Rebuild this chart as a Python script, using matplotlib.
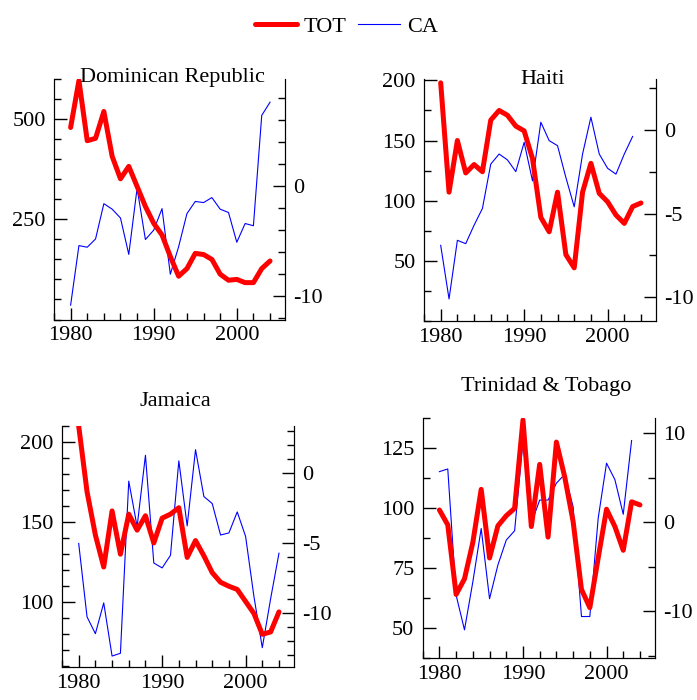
import numpy as np
import matplotlib.pyplot as plt
from matplotlib.ticker import FixedLocator, MultipleLocator

plt.rcParams['font.family'] = ['Liberation Serif', 'DejaVu Serif']
plt.rcParams['font.size'] = 16
plt.rcParams['axes.unicode_minus'] = False

years = list(range(1980, 2005))

# Dominican Republic
dr_tot = [479, 596, 446, 452, 519, 407, 351, 382, 332, 282, 240, 211, 157,
          108, 127, 165, 162, 150, 113, 98, 100, 92, 92, 127, 146]
dr_ca = [-10.8, -5.4, -5.55, -4.8, -1.6, -2.1, -2.9, -6.2, -0.2, -4.85, -4.0,
         -2.05, -8.0, -5.5, -2.5, -1.4, -1.5, -1.05, -2.1, -2.4, -5.1, -3.4,
         -3.6, 6.4, 7.6]

# Haiti
haiti_tot = [198, 107, 150, 123, 130, 124, 167, 175, 171, 162, 158, 135, 86,
             74, 107, 55, 44, 107, 131, 106, 99, 88, 81, 95, 98]
haiti_ca = [-6.9, -10.1, -6.6, -6.8, -5.7, -4.7, -2.05, -1.45, -1.8, -2.5,
            -0.75, -3.05, 0.45, -0.65, -0.95, -2.85, -4.6, -1.45, 0.75, -1.45,
            -2.3, -2.65, -1.45, -0.4]

# Jamaica
jam_tot = [210, 169, 142, 122, 157, 130, 155, 145, 154, 137, 152.5, 155, 159,
           128, 138.5, 129, 118.5, 112.5, 110, 108, 100.5, 93, 80, 81.5, 94]
jam_ca = [-5.05, -10.3, -11.5, -9.3, -13.1, -12.9, -0.6, -3.85, 1.25, -6.45,
          -6.8, -5.9, 0.85, -3.8, 1.65, -1.7, -2.2, -4.45, -4.3, -2.8, -4.55,
          -8.85, -12.5, -9.0, -5.75]

# Trinidad & Tobago
tt_tot = [99.3, 93.1, 64.1, 70.6, 85.8, 107.9, 79.3, 92.7, 96.9, 100, 136.8,
          92.4, 118.3, 88, 127.6, 113, 94.5, 66.2, 58.6, 79.3, 99.6, 92.4,
          82.5, 102.7, 101.4]
tt_ca = [5.7, 6.0, -8.2, -12.1, -6.7, -0.7, -8.6, -4.8, -2.0, -0.95, 9.1,
         -0.1, 2.5, 2.5, 4.4, 5.4, 1.75, -10.6, -10.6, 0.45, 6.65, 4.8, 0.9,
         9.2]

W, H = 697, 700
fig = plt.figure(figsize=(W / 100, H / 100), dpi=100)


def px_rect(x0, x1, y0, y1):
    return [x0 / W, 1 - y1 / H, (x1 - x0) / W, (y1 - y0) / H]


def panel(rect, tot, ca, lylim, lticks, lminor, rylim, rmajor, rminor):
    ax = fig.add_axes(rect)
    ax2 = ax.twinx()
    ax.plot(years[:len(tot)], tot, color='red', lw=3.6, label='TOT',
            solid_joinstyle='round', solid_capstyle='round', zorder=3)
    ax2.plot(years[:len(ca)], ca, color='blue', lw=0.8, label='CA')
    ax.set_zorder(ax2.get_zorder() + 1)
    ax.patch.set_visible(False)
    ax.set_xlim(1978, 2005.8)
    ax.set_ylim(*lylim)
    ax2.set_ylim(*rylim)
    ax.yaxis.set_major_locator(FixedLocator(lticks))
    ax.yaxis.set_minor_locator(MultipleLocator(lminor))
    ax2.yaxis.set_major_locator(MultipleLocator(rmajor))
    ax2.yaxis.set_minor_locator(MultipleLocator(rminor))
    ax.xaxis.set_major_locator(FixedLocator([1980, 1990, 2000]))
    ax.xaxis.set_minor_locator(MultipleLocator(2))
    for a in (ax, ax2):
        a.spines['top'].set_visible(False)
        a.tick_params(which='major', direction='in', length=9, width=1)
        a.tick_params(which='minor', direction='in', length=5, width=1)
    ax.tick_params(axis='y', which='both', right=False, pad=6)
    ax.tick_params(axis='x', pad=5)
    ax2.tick_params(axis='y', which='both', left=False, right=True, pad=6)
    return ax, ax2


ax, ax2 = panel(px_rect(54, 285, 79, 319.5), dr_tot, dr_ca,
                (0, 600), [250, 500], 50, (-12.1, 9.7), 10, 2)
fig.text(172, H - 82, 'Dominican Republic', ha='center', va='baseline',
         transform=None)

panel(px_rect(424, 656, 79, 320.7), haiti_tot, haiti_ca,
      (0, 201.2), [50, 100, 150, 200], 25, (-11.4, 3.03), 5, 2.5)
fig.text(543, H - 84, 'Haiti', ha='center', va='baseline', transform=None)

panel(px_rect(62, 294, 426, 666.7), jam_tot, jam_ca,
      (59.8, 210), [100, 150, 200], 10, (-13.86, 3.34), 5, 1)
fig.text(175, H - 406, 'Jamaica', ha='center', va='baseline', transform=None)

panel(px_rect(422.7, 655, 418.3, 658.3), tt_tot, tt_ca,
      (37.5, 137.5), [50, 75, 100, 125], 12.5, (-15.3, 11.7), 10, 5)
fig.text(546, H - 390.5, 'Trinidad & Tobago', ha='center', va='baseline',
         transform=None)

h1, l1 = ax.get_legend_handles_labels()
h2, l2 = ax2.get_legend_handles_labels()
fig.legend(h1 + h2, l1 + l2, loc='upper center', bbox_to_anchor=(0.497, 1.005),
           ncol=2, frameon=False, handlelength=1.9, columnspacing=0.5,
           handletextpad=0.3)

fig.savefig('out.png', dpi=100)
